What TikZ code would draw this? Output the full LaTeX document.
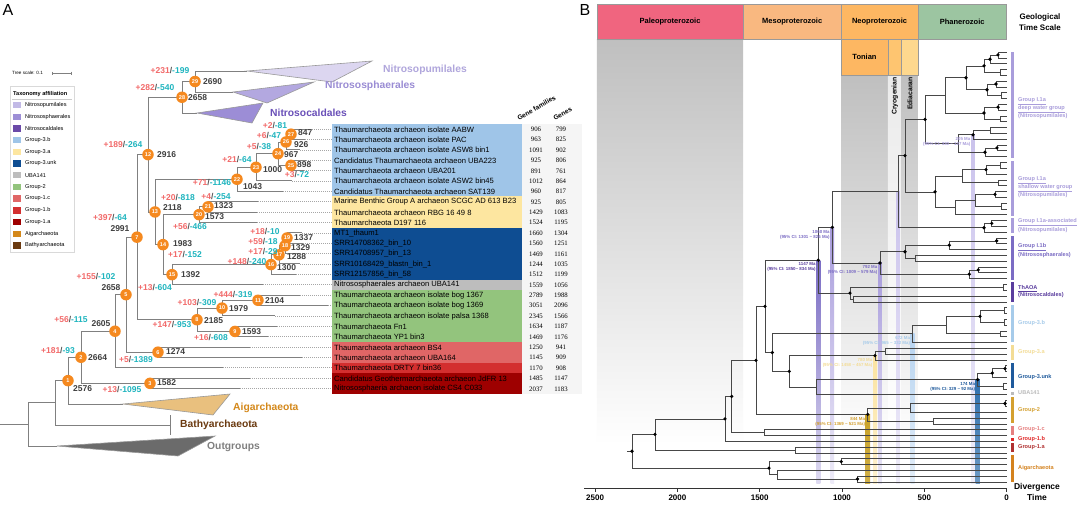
\documentclass[tikz,border=0pt]{standalone}
\usepackage{fontspec}
\setmainfont{Liberation Sans}
\newfontfamily\numfont{Liberation Serif}
\usetikzlibrary{calc}
\pgfdeclarelayer{back}
\pgfdeclarelayer{lines}
\pgfsetlayers{back,lines,main}
\newcommand\myfs[1]{\fontsize{#1}{#1}\selectfont}
\definecolor{plusc}{HTML}{F26A6A}
\definecolor{minusc}{HTML}{1FB5BF}
\definecolor{slashc}{HTML}{555555}
\definecolor{cntc}{HTML}{404040}
\definecolor{orangec}{HTML}{F5891F}
\definecolor{treec}{HTML}{808080}
\definecolor{cpum}{HTML}{C2BAE6}
\definecolor{csph}{HTML}{9D8FD6}
\definecolor{ccal}{HTML}{6B4AA8}
\definecolor{c3b}{HTML}{9FC5E8}
\definecolor{c3a}{HTML}{FDE6A0}
\definecolor{c3u}{HTML}{0E4D92}
\definecolor{cuba}{HTML}{BDBDBD}
\definecolor{cg2}{HTML}{93C47D}
\definecolor{c1c}{HTML}{E06666}
\definecolor{c1b}{HTML}{D32F2F}
\definecolor{c1a}{HTML}{9E0000}
\definecolor{caig}{HTML}{D4881A}
\definecolor{cbat}{HTML}{6B3A10}
\definecolor{pumfill}{HTML}{DCD6F0}
\definecolor{sphfill}{HTML}{B3A8E0}
\definecolor{calfill}{HTML}{9C8DD6}
\definecolor{pumtxt}{HTML}{B0A6DC}
\definecolor{sphtxt}{HTML}{9A8CD4}
\definecolor{caltxt}{HTML}{6A50B8}
\definecolor{aigfill}{HTML}{E9C07E}
\definecolor{paleo}{HTML}{F0657F}
\definecolor{meso}{HTML}{F9B880}
\definecolor{neo}{HTML}{FDB762}
\definecolor{phan}{HTML}{9CC5A1}
\definecolor{cryo}{HTML}{FEC570}
\definecolor{edia}{HTML}{FED88E}
\definecolor{gIa}{HTML}{A99DDB}
\definecolor{gIb}{HTML}{7B6CC4}
\definecolor{gTh}{HTML}{5A3D9E}
\definecolor{g3b}{HTML}{A6CBEA}
\definecolor{g3a}{HTML}{F3DC95}
\definecolor{g3u}{HTML}{1F5A9C}
\definecolor{gUB}{HTML}{BBBBBB}
\definecolor{gG2}{HTML}{D4A030}
\definecolor{g1c}{HTML}{E68080}
\definecolor{g1b}{HTML}{E02828}
\definecolor{g1a}{HTML}{B03030}
\definecolor{gAi}{HTML}{D4821E}
\definecolor{bd1147}{HTML}{7A6CC4}
\definecolor{bdpur}{HTML}{A89CDC}
\definecolor{bdlpur}{HTML}{CAC2EC}
\definecolor{bd3b}{HTML}{B8D4F0}
\definecolor{bd3a}{HTML}{FBE3A0}
\definecolor{bd3u}{HTML}{2F6FAE}
\definecolor{bdG2}{HTML}{C9A227}
\newcommand\pmlab[2]{\textcolor{plusc}{+#1}\textcolor{slashc}{/}\textcolor{minusc}{-#2}}
\newcommand\anode[5]{%
  \path let \p1=(#3), \p2=(#4) in node[onode] (#1) at (#2pt,{(\y1+\y2)/2}) {#5};
  \begin{pgfonlayer}{lines}
  \draw[tline] (#1.center) |- (#3.center) (#1.center) |- (#4.center);
  \end{pgfonlayer}}
\newcommand\cnode[4]{%
  \path let \p1=(#3), \p2=(#4) in coordinate (#1) at (#2pt,{(\y1+\y2)/2});
  \begin{pgfonlayer}{lines}
  \draw[tline] (#1) |- (#3.center) (#1) |- (#4.center);
  \end{pgfonlayer}}
\newcommand\bnode[5]{%
  \path let \p1=(#3), \p2=(#4) in coordinate (#1) at (#2pt,{(\y1+\y2)/2});
  \begin{pgfonlayer}{lines}
  \draw[bline] (#1) |- (#3) (#1) |- (#4);
  \end{pgfonlayer}
  \ifnum#5=1 \fill[black] (#1) circle[radius=1.8pt];\fi}
\newcommand\agelab[4]{\node[agel, text=#3] (#1) at ($(#2)+(-2.5,2.5)$) {#4};}
\newcommand\band[4]{%
  \begin{pgfonlayer}{back}
  \shade[top color=#3, bottom color=#3!#4!white] let \p1=(#1) in (\x1-#2pt,\y1) rectangle (\x1+#2pt,-483pt);
  \end{pgfonlayer}}
\begin{document}
\begin{tikzpicture}[x=1pt,y=-1pt,
  tline/.style={draw=treec, line width=0.9pt},
  bline/.style={draw=black!72, line width=0.6pt},
  dotl/.style={draw=gray!70, line width=0.5pt, dash pattern=on 0.8pt off 1.2pt},
  onode/.style={circle, fill=orangec, minimum size=11.5pt, inner sep=0pt, text=white, font=\myfs{5.5}\bfseries},
  pm/.style={inner sep=0pt, font=\myfs{8.5}\bfseries},
  cnt/.style={inner sep=0pt, font=\myfs{8.5}\bfseries, text=cntc, anchor=west},
  clab/.style={inner sep=0pt, font=\myfs{10.3}\bfseries, anchor=west},
  rowtxt/.style={inner sep=0pt, anchor=west, font=\myfs{7.6}},
  numtxt/.style={inner sep=0pt, font=\numfont\myfs{6.8}},
  legt/.style={inner sep=0pt, anchor=west, font=\myfs{5.6}},
  tri/.style={draw=gray!80, line width=0.6pt},
  era/.style={inner sep=0pt, font=\myfs{7.5}\bfseries},
  agel/.style={anchor=north east, align=right, inner sep=0pt, font=\fontsize{4.4}{5}\selectfont\bfseries},
  glab/.style={anchor=west, align=left, inner sep=0pt, font=\fontsize{5.6}{7}\selectfont\bfseries}]
\useasboundingbox (0,0) rectangle (1080,504);
\begin{pgfonlayer}{back}
\fill[white] (0,0) rectangle (1080,504);
\end{pgfonlayer}
% ================= PANEL A =================
\node[inner sep=0pt, font=\myfs{16}] (labA) at (8,10) {A};
\node[inner sep=0pt, anchor=west, font=\myfs{4.6}] (tsc) at (12,73) {Tree scale: 0.1};
\coordinate (tsa) at (52,73); \coordinate (tsb) at (71,73);
\draw[gray, line width=0.5pt] (tsa) -- (tsb) (52,71.5) -- (52,74.5) (71,71.5) -- (71,74.5);
% legend
\draw[gray!30, fill=white, line width=0.5pt] (10,86) rectangle (74,252);
\node[inner sep=0pt, anchor=west, font=\myfs{5.6}\bfseries] (legtitle) at (13,94) {Taxonomy affiliation};
\draw[gray!40, line width=0.4pt] (12,99) -- (72,99);
\foreach \i/\cl/\nm in {0/cpum/Nitrosopumilales,1/csph/Nitrososphaerales,2/ccal/Nitrosocaldales,3/c3b/Group-3.b,4/c3a/Group-3.a,5/c3u/Group-3.unk,6/cuba/UBA141,7/cg2/Group-2,8/c1c/Group-1.c,9/c1b/Group-1.b,10/c1a/Group-1.a,11/caig/Aigarchaeota,12/cbat/Bathyarchaeota}{
  \fill[\cl] (13,{105+11.7*\i-3.2}) rectangle (21,{105+11.7*\i+3.2});
  \node[legt] (lg\i) at (25,{105+11.7*\i}) {\nm};
}
% table
\fill[gray!8] (521.7,123.8) rectangle (582,394);
\node[inner sep=0pt, anchor=south west, rotate=30, font=\myfs{6.6}\bfseries] (hgf) at (519,121) {Gene families};
\node[inner sep=0pt, anchor=south west, rotate=30, font=\myfs{6.6}\bfseries] (hgn) at (555,121) {Genes};
\foreach \i/\lx/\nm/\gf/\gn/\cl in {
0/310/Thaumarchaeota archaeon isolate AABW/906/799/c3b,
1/305/Thaumarchaeota archaeon isolate PAC/963/825/c3b,
2/300/Thaumarchaeota archaeon isolate ASW8 bin1/1091/902/c3b,
3/306/Candidatus Thaumarchaeota archaeon UBA223/925/806/c3b,
4/304/Thaumarchaeota archaeon UBA201/891/761/c3b,
5/292/Thaumarchaeota archaeon isolate ASW2 bin45/1012/864/c3b,
6/283/Candidatus Thaumarchaeota archaeon SAT139/960/817/c3b,
7/258/Marine Benthic Group A archaeon SCGC AD 613 B23/925/805/c3a,
8/257/Thaumarchaeota archaeon RBG 16 49 8/1429/1083/c3a,
9/257/Thaumarchaeota D197 116/1524/1195/c3a,
10/302/MT1\_thaum1/1660/1304/c3u,
11/303/SRR14708362\_bin\_10/1560/1251/c3u,
12/298/SRR14708957\_bin\_13/1469/1161/c3u,
13/300/SRR10168429\_blastn\_bin\_1/1244/1035/c3u,
14/296/SRR12157856\_bin\_58/1512/1199/c3u,
15/263/Nitrososphaerales archaeon UBA141/1559/1056/cuba,
16/300/Thaumarchaeota archaeon isolate bog 1367/2789/1988/cg2,
17/328/Thaumarchaeota archaeon isolate bog 1369/3051/2096/cg2,
18/275/Thaumarchaeota archaeon isolate palsa 1368/2345/1566/cg2,
19/277/Thaumarchaeota Fn1/1634/1187/cg2,
20/268/Thaumarchaeota YP1 bin3/1469/1176/cg2,
21/250/Thaumarchaeota archaeon BS4/1250/941/c1c,
22/302/Thaumarchaeota archaeon UBA164/1145/909/c1c,
23/223/Thaumarchaeota DRTY 7 bin36/1170/908/c1b,
24/250/Candidatus Geothermarchaeota archaeon JdFR 13/1485/1147/c1a,
25/240/Nitrososphaeria archaeon isolate CS4 C033/2037/1183/c1a}{
  \coordinate (r\i) at (\lx,{129+10.38*\i});
  \coordinate (tb\i) at (331.7,{129+10.38*\i});
  \fill[\cl] (331.7,{129+10.38*\i-5.19}) rectangle (521.7,{129+10.38*\i+5.19});
  \node[rowtxt] (rt\i) at (334,{129+10.38*\i+0.3}) {\nm};
  \node[numtxt] (gf\i) at (536,{129+10.38*\i+0.3}) {\gf};
  \node[numtxt] (gn\i) at (561,{129+10.38*\i+0.3}) {\gn};
  \draw[dotl] (r\i) -- (tb\i);
}
% collapsed clades
\coordinate (tpum) at (247,71);
\coordinate (tsph) at (233,92);
\coordinate (tcal) at (197,113);
\coordinate (taig) at (123,404);
\coordinate (tbat) at (170,425);
\coordinate (tout) at (57,446);
\filldraw[tri, fill=pumfill] (tpum) -- (372,61) -- (332,82) -- cycle;
\filldraw[tri, fill=sphfill] (tsph) -- (314,82) -- (267,103) -- cycle;
\filldraw[tri, fill=calfill] (tcal) -- (263,103) -- (252,123) -- cycle;
\filldraw[tri, fill=aigfill] (taig) -- (230,394) -- (213,415) -- cycle;
\filldraw[tri, fill=black!58] (tout) -- (215,436) -- (178,456) -- cycle;
\draw[tline] (170,415) -- (170,435);
\node[clab, text=pumtxt] (lpum) at (383,70) {Nitrosopumilales};
\node[clab, text=sphtxt] (lsph) at (325,86) {Nitrososphaerales};
\node[clab, text=caltxt] (lcal) at (270,113) {Nitrosocaldales};
\node[clab, text=caig] (laig) at (233,408) {Aigarchaeota};
\node[clab, text=cbat] (lbat) at (180,425) {Bathyarchaeota};
\node[clab, text=gray] (lout) at (207,447) {Outgroups};
% tree A
\anode{n27}{291}{r0}{r1}{27}
\anode{n26}{286}{n27}{r2}{26}
\anode{n25}{291}{r3}{r4}{25}
\anode{n24}{278}{n26}{n25}{24}
\anode{n23}{256}{n24}{r5}{23}
\anode{n22}{237}{n23}{r6}{22}
\anode{n21}{208}{r7}{r8}{21}
\anode{n20}{199}{n21}{r9}{20}
\anode{n19}{287}{r10}{r11}{19}
\anode{n18}{285}{n19}{r12}{18}
\anode{n17}{279}{n18}{r13}{17}
\anode{n16}{271}{n17}{r14}{16}
\anode{n15}{172}{n16}{r15}{15}
\anode{n14}{163}{n20}{n15}{14}
\anode{n13}{155}{n22}{n14}{13}
\anode{n29}{195}{tpum}{tsph}{29}
\anode{n28}{182}{n29}{tcal}{28}
\anode{n12}{148}{n28}{n13}{12}
\anode{n11}{258}{r16}{r17}{11}
\anode{n10}{222}{n11}{r18}{10}
\anode{n9}{235}{r19}{r20}{9}
\anode{n8}{197}{n10}{n9}{8}
\anode{n7}{137}{n12}{n8}{7}
\anode{n6}{158}{r21}{r22}{6}
\anode{n5}{126}{n7}{n6}{5}
\anode{n4}{115}{n5}{r23}{4}
\anode{n3}{150}{r24}{r25}{3}
\anode{n2}{81}{n4}{n3}{2}
\anode{n1}{68}{n2}{taig}{1}
\cnode{m0}{55}{n1}{tbat}
\cnode{aroot}{28}{m0}{tout}
\begin{pgfonlayer}{lines}
\draw[tline] (aroot) -- ++(-28,0);
\end{pgfonlayer}
% gain/loss labels
\node[pm] (pm29) at (170,71) {\pmlab{231}{199}};
\node[pm] (pm28) at (155,88) {\pmlab{282}{540}};
\node[pm] (pm12) at (123,145) {\pmlab{189}{264}};
\node[pm] (pm27) at (275,126) {\pmlab{2}{81}};
\node[pm] (pm26) at (269,136) {\pmlab{6}{47}};
\node[pm] (pm24) at (259,147) {\pmlab{5}{38}};
\node[pm] (pm25) at (297,175) {\pmlab{3}{72}};
\node[pm] (pm23) at (237,160) {\pmlab{21}{64}};
\node[pm] (pm22) at (212,183) {\pmlab{71}{1146}};
\node[pm] (pm21) at (216,197) {\pmlab{4}{254}};
\node[pm] (pm13) at (178,198) {\pmlab{20}{818}};
\node[pm] (pm20) at (190,227) {\pmlab{56}{466}};
\node[pm] (pm14) at (185,255) {\pmlab{17}{152}};
\node[pm] (pm19) at (265,232) {\pmlab{18}{10}};
\node[pm] (pm18) at (263,242) {\pmlab{59}{18}};
\node[pm] (pm17) at (263,252) {\pmlab{17}{29}};
\node[pm] (pm16) at (247,262) {\pmlab{148}{240}};
\node[pm] (pm15) at (155,288) {\pmlab{13}{604}};
\node[pm] (pm7) at (110,218) {\pmlab{397}{64}};
\node[pm] (pm5) at (96,277) {\pmlab{155}{102}};
\node[pm] (pm11) at (233,294) {\pmlab{444}{319}};
\node[pm] (pm10) at (197,302) {\pmlab{103}{309}};
\node[pm] (pm8) at (172,325) {\pmlab{147}{953}};
\node[pm] (pm9) at (211,337) {\pmlab{16}{608}};
\node[pm] (pm4) at (71,319) {\pmlab{56}{115}};
\node[pm] (pm6) at (136,359) {\pmlab{5}{1389}};
\node[pm] (pm2) at (58,350) {\pmlab{181}{93}};
\node[pm] (pm3) at (122,389) {\pmlab{13}{1095}};
% counts
\node[cnt] (ct29) at (203,82) {2690};
\node[cnt] (ct28) at (188,98) {2658};
\node[cnt] (ct12) at (157,155) {2916};
\node[cnt] (ct27) at (298,133) {847};
\node[cnt] (ct26) at (294,145) {926};
\node[cnt] (ct24) at (284,155) {967};
\node[cnt] (ct25) at (297,165) {898};
\node[cnt] (ct23) at (263,170) {1000};
\node[cnt] (ct22) at (243,187) {1043};
\node[cnt] (ct21) at (214,206) {1323};
\node[cnt] (ct20) at (205,217) {1573};
\node[cnt] (ct13) at (163,208) {2118};
\node[cnt] (ct14) at (173,244) {1983};
\node[cnt] (ct19) at (294,238) {1337};
\node[cnt] (ct18) at (291,248) {1329};
\node[cnt] (ct17) at (287,257) {1288};
\node[cnt] (ct16) at (277,268) {1300};
\node[cnt] (ct15) at (181,275) {1392};
\node[cnt, anchor=center] (ct7) at (120,229) {2991};
\node[cnt, anchor=center] (ct5) at (111,288) {2658};
\node[cnt] (ct11) at (265,301) {2104};
\node[cnt] (ct10) at (229,309) {1979};
\node[cnt] (ct8) at (204,321) {2185};
\node[cnt] (ct9) at (242,332) {1593};
\node[cnt, anchor=center] (ct4) at (101,324) {2605};
\node[cnt] (ct6) at (166,352) {1274};
\node[cnt] (ct2) at (88,358) {2664};
\node[cnt] (ct1) at (73,389) {2576};
\node[cnt] (ct3) at (157,383) {1582};
% ================= PANEL B =================
\node[inner sep=0pt, font=\myfs{16}] (labB) at (585,10) {B};
\begin{pgfonlayer}{back}
\shade[top color=black!25, bottom color=white] (596.8,39) rectangle (743.2,445);
\shade[top color=black!25, bottom color=white] (841.3,75) rectangle (887.8,445);
\shade[top color=black!8, bottom color=white] (887.8,75) rectangle (901.6,445);
\shade[top color=black!25, bottom color=white] (901.6,75) rectangle (917.8,445);
\end{pgfonlayer}
\filldraw[fill=paleo, draw=gray!80, line width=0.5pt] (596.8,4) rectangle (743.2,39);
\filldraw[fill=meso, draw=gray!80, line width=0.5pt] (743.2,4) rectangle (841.3,39);
\filldraw[fill=neo, draw=gray!80, line width=0.5pt] (841.3,4) rectangle (917.8,39);
\filldraw[fill=phan, draw=gray!80, line width=0.5pt] (917.8,4) rectangle (1006.6,39);
\filldraw[fill=neo, draw=gray!80, line width=0.5pt] (841.3,39) rectangle (887.8,75);
\filldraw[fill=cryo, draw=gray!80, line width=0.5pt] (887.8,39) rectangle (901.6,75);
\filldraw[fill=edia, draw=gray!80, line width=0.5pt] (901.6,39) rectangle (917.8,75);
\node[era] (ePal) at (670,21.5) {Paleoproterozoic};
\node[era] (eMes) at (792.2,21.5) {Mesoproterozoic};
\node[era] (eNeo) at (879.5,21.5) {Neoproterozoic};
\node[era] (ePha) at (962.2,21.5) {Phanerozoic};
\node[era] (eTon) at (864.5,57) {Tonian};
\node[era, rotate=90, anchor=east, font=\myfs{6.8}\bfseries] (eCry) at (894.9,77) {Cryogenian};
\node[era, rotate=90, anchor=east, font=\myfs{6.8}\bfseries] (eEdi) at (909.9,77) {Ediacaran};
\node[inner sep=0pt, align=center, font=\fontsize{8}{10.5}\selectfont\bfseries] (geo) at (1040,22) {Geological\\Time Scale};
% axis
\draw[black!80, line width=0.6pt] (584,488) -- (1006.6,488);
\foreach \a in {2500,2000,1500,1000,500,0}{
  \draw[black!80, line width=0.6pt] ({1006.6-0.1646*\a},488) -- ({1006.6-0.1646*\a},491.5);
  \node[inner sep=0pt, font=\myfs{8}\bfseries] (ax\a) at ({1006.6-0.1646*\a},497.5) {\a};
}
\node[inner sep=0pt, align=center, font=\fontsize{8.5}{11}\selectfont\bfseries] (divt) at (1037,492) {Divergence\\Time};
% leaves
\foreach \i in {0,...,74}{\coordinate (L\i) at (1006.6,{52+5.81*\i});}
% tree B
\bnode{b1}{998}{L0}{L1}{1}
\bnode{b2}{990}{b1}{L2}{1}
\bnode{b3}{1000}{L3}{L4}{0}
\bnode{b4}{984}{b2}{b3}{1}
\bnode{b5}{996}{L5}{L6}{1}
\bnode{b6}{1001}{L7}{L8}{0}
\bnode{b7}{987}{b5}{b6}{1}
\bnode{b8}{966}{b4}{b7}{1}
\bnode{b9}{998}{L9}{L10}{1}
\bnode{b10}{1000}{L11}{L12}{0}
\bnode{b11}{984}{b9}{b10}{1}
\bnode{b12}{945}{b8}{b11}{0}
\bnode{b13}{990}{L13}{L14}{0}
\bnode{b14}{973}{b13}{L15}{1}
\bnode{b15}{997}{L16}{L17}{1}
\bnode{b16}{985}{b15}{L18}{1}
\bnode{b17}{958}{b14}{b16}{0}
\bnode{deep}{925}{b12}{b17}{1}
\bnode{s1}{1000}{L19}{L20}{0}
\bnode{s2}{986}{s1}{L21}{1}
\bnode{s3}{998}{L22}{L23}{0}
\bnode{s4}{962}{s2}{s3}{0}
\bnode{s5}{995}{L24}{L25}{1}
\bnode{s6}{1001}{L26}{L27}{0}
\bnode{s7}{975}{s5}{s6}{0}
\bnode{s8}{955}{s7}{L28}{0}
\bnode{shal}{935}{s4}{s8}{1}
\bnode{ds}{905}{deep}{shal}{1}
\bnode{as1}{991.7}{L29}{L30}{1}
\bnode{as2}{984}{as1}{L31}{1}
\bnode{ia}{898}{ds}{as2}{0}
\bnode{pb1}{996.7}{L32}{L33}{1}
\bnode{pb2}{949.3}{pb1}{L34}{1}
\bnode{pb3}{915}{L35}{L36}{0}
\bnode{pb4}{905}{pb2}{pb3}{1}
\bnode{pb5}{978.3}{L37}{L38}{1}
\bnode{pb6}{969.3}{pb5}{L39}{1}
\bnode{ib}{880}{pb4}{pb6}{1}
\bnode{n1060}{832.3}{ia}{ib}{1}
\bnode{th1}{1003}{L40}{L41}{0}
\bnode{th2}{853}{L42}{L43}{0}
\bnode{thaoa}{850}{th1}{th2}{1}
\bnode{n1147}{818.3}{n1060}{thaoa}{1}
\bnode{q1}{1004}{L44}{L45}{0}
\bnode{q2}{1004}{L46}{L47}{0}
\bnode{q3}{980}{q1}{q2}{1}
\bnode{q4}{1000}{L48}{L49}{0}
\bnode{q5}{946.7}{q3}{q4}{0}
\bnode{gtb}{912.7}{q5}{L50}{0}
\bnode{u1}{885}{L51}{L52}{0}
\bnode{gta}{875}{u1}{L53}{1}
\bnode{k1}{1005}{L54}{L55}{1}
\bnode{k2}{992.3}{k1}{L56}{1}
\bnode{k3}{1003}{L57}{L58}{0}
\bnode{gtu}{977.7}{k2}{k3}{1}
\bnode{w1}{816}{gtu}{L59}{0}
\bnode{w2}{789.3}{gta}{w1}{1}
\bnode{w3}{772.3}{gtb}{w2}{1}
\bnode{w4}{765}{n1147}{w3}{1}
\bnode{e1}{1005}{L60}{L61}{1}
\bnode{e2}{910}{e1}{L62}{0}
\bnode{e3}{933}{L63}{L64}{0}
\bnode{gtwo}{867.7}{e2}{e3}{1}
\bnode{w5}{756}{w4}{gtwo}{1}
\bnode{cc1}{763.8}{L65}{L66}{0}
\bnode{w6}{731.7}{w5}{cc1}{1}
\bnode{w7}{725}{w6}{L67}{1}
\bnode{cc2}{794.8}{L68}{L69}{0}
\bnode{w8}{655}{w7}{cc2}{1}
\bnode{ag1}{841.3}{L70}{L71}{1}
\bnode{ag2}{857.5}{L73}{L74}{1}
\bnode{ag3}{777.6}{L72}{ag2}{0}
\bnode{ag4}{769}{ag1}{ag3}{1}
\bnode{broot}{632}{w8}{ag4}{1}
\begin{pgfonlayer}{lines}
\draw[bline] (broot) -- ++(-5,0);
\end{pgfonlayer}
% time bands
\band{n1147}{2}{bd1147}{25}
\band{n1060}{1.8}{bdpur}{20}
\band{ib}{1.8}{bdpur}{25}
\band{ia}{1.8}{bdlpur}{30}
\band{b14}{1.8}{bdlpur}{30}
\band{gtb}{2}{bd3b}{40}
\band{gta}{2}{bd3a}{50}
\band{gtu}{2.2}{bd3u}{70}
\band{gtwo}{2.5}{bdG2}{85}
% age labels
\agelab{al1147}{n1147}{gTh}{1147 Ma\\(95\% CI: 1850\textasciitilde{} 834 Ma)}
\agelab{al1060}{n1060}{gIb}{1060 Ma\\(95\% CI: 1301 \textasciitilde{} 826 Ma)}
\agelab{al792}{ib}{gIb}{792 Ma\\(95\% CI: 1009 \textasciitilde{} 579 Ma)}
\agelab{al205}{b14}{gIa}{205 Ma\\(95\% CI: 330 \textasciitilde{} 127 Ma)}
\agelab{al3b}{gtb}{g3b}{672 Ma\\(95\% CI: 965 \textasciitilde{} 332 Ma)}
\agelab{al3a}{gta}{g3a}{780 Ma\\(95\% CI: 1458 \textasciitilde{} 457 Ma)}
\agelab{al3u}{gtu}{g3u}{174 Ma\\(95\% CI: 329 \textasciitilde{} 92 Ma)}
\agelab{alg2}{gtwo}{gG2}{844 Ma\\(95\% CI: 1369 \textasciitilde{} 521 Ma)}
% right group bars and labels
\fill[gIa] (1011,52) rectangle (1013.5,158);
\fill[gIa] (1011,161) rectangle (1013.5,216);
\fill[gIa] (1011,218) rectangle (1013.5,233);
\fill[gIb] (1011,236) rectangle (1013.5,280);
\fill[gTh] (1011,282) rectangle (1013.5,302);
\fill[g3b] (1011,305) rectangle (1013.5,342);
\fill[g3a] (1011,345) rectangle (1013.5,360);
\fill[g3u] (1011,363) rectangle (1013.5,388);
\fill[gUB] (1011,391.5) rectangle (1013.5,394.5);
\fill[gG2] (1011,397) rectangle (1013.5,423);
\fill[g1c] (1011,426) rectangle (1013.5,435);
\fill[g1b] (1011,437.5) rectangle (1013.5,440.5);
\fill[g1a] (1011,443) rectangle (1013.5,452);
\fill[gAi] (1011,455) rectangle (1013.5,482);
\node[glab, text=gIa] (gl1) at (1018,108) {\underline{Group I.1a}\\\underline{deep water group}\\(Nitrosopumilales)};
\node[glab, text=gIa] (gl2) at (1018,187) {\underline{Group I.1a}\\\underline{shallow water group}\\(Nitrosopumilales)};
\node[glab, text=gIa] (gl3) at (1018,225.5) {\underline{Group I.1a-associated}\\(Nitrosopumilales)};
\node[glab, text=gIb] (gl4) at (1018,250.5) {\underline{Group I.1b}\\(Nitrososphaerales)};
\node[glab, text=gTh] (gl5) at (1018,291.5) {\underline{ThAOA}\\(Nitrosocaldales)};
\node[glab, text=g3b] (gl6) at (1018,323) {Group-3.b};
\node[glab, text=g3a] (gl7) at (1018,352) {Group-3.a};
\node[glab, text=g3u] (gl8) at (1018,377) {Group-3.unk};
\node[glab, text=gUB] (gl9) at (1018,393) {UBA141};
\node[glab, text=gG2] (gl10) at (1018,410) {Group-2};
\node[glab, text=g1c] (gl11) at (1018,429) {Group-1.c};
\node[glab, text=g1b] (gl12) at (1018,439) {Group-1.b};
\node[glab, text=g1a] (gl13) at (1018,447) {Group-1.a};
\node[glab, text=gAi] (gl14) at (1018,468) {Aigarchaeota};
\end{tikzpicture}
\end{document}
